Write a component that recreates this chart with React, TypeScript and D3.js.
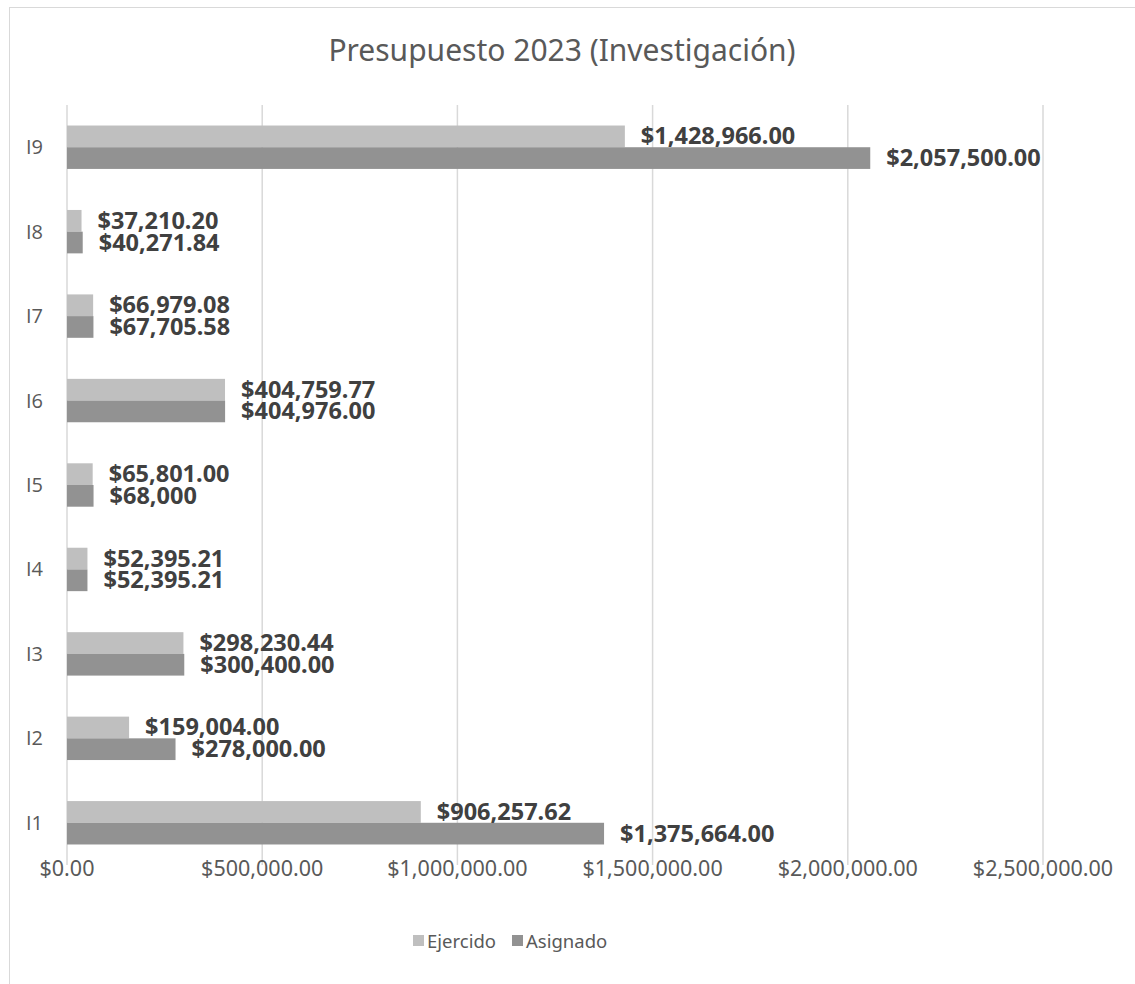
import React from "react";
import * as d3 from "d3";

const categories = ["I1", "I2", "I3", "I4", "I5", "I6", "I7", "I8", "I9"];
const ejercido = [906257.62, 159004, 298230.44, 52395.21, 65801, 404759.77, 66979.08, 37210.2, 1428966];
const asignado = [1375664, 278000, 300400, 52395.21, 68000, 404976, 67705.58, 40271.84, 2057500];
const ejercidoLabels = ["$906,257.62", "$159,004.00", "$298,230.44", "$52,395.21", "$65,801.00", "$404,759.77", "$66,979.08", "$37,210.20", "$1,428,966.00"];
const asignadoLabels = ["$1,375,664.00", "$278,000.00", "$300,400.00", "$52,395.21", "$68,000", "$404,976.00", "$67,705.58", "$40,271.84", "$2,057,500.00"];
const xTicks = [0, 500000, 1000000, 1500000, 2000000, 2500000];
const seriesNames = ["Ejercido", "Asignado"];
const seriesColors = ["#bfbfbf", "#929292"];

const W = 1135;
const H = 984;
const FONT = "'Noto Sans', 'Open Sans', sans-serif";
const CAT_FONT = "'Open Sans', 'Noto Sans', sans-serif";

export default function App() {
  const x = d3.scaleLinear().domain([0, 2500000]).range([67, 1043]);
  const y = d3
    .scaleBand<string>()
    .domain([...categories].reverse())
    .range([105, 865])
    .paddingInner(0.486)
    .paddingOuter(0.243);
  const sub = d3.scaleBand<string>().domain(seriesNames).range([0, y.bandwidth()]);
  const fmt = (v: number) => "$" + d3.format(",.2f")(v);
  const series = [
    { name: seriesNames[0], values: ejercido, labels: ejercidoLabels, color: seriesColors[0] },
    { name: seriesNames[1], values: asignado, labels: asignadoLabels, color: seriesColors[1] },
  ];

  return (
    <svg
      width={W}
      height={H}
      style={{ position: "absolute", left: 0, top: 0, background: "#fff", fontFamily: FONT }}
    >
      <rect x={9.5} y={7.5} width={W + 10} height={H + 10} fill="#fff" stroke="#d9d9d9" />
      <text x={562} y={61} textAnchor="middle" fontSize={30} fill="#595959" fontFamily={FONT}>
        Presupuesto 2023 (Investigación)
      </text>
      {xTicks.map((t) => (
        <line key={"g" + t} x1={x(t)} x2={x(t)} y1={105} y2={865} stroke="#d9d9d9" strokeWidth={1.5} />
      ))}
      {xTicks.map((t) => (
        <text key={"t" + t} x={x(t)} y={876} textAnchor="middle" fontSize={21.5} fill="#595959" fontFamily={FONT}>
          {fmt(t)}
        </text>
      ))}
      {categories.map((c) => (
        <text
          key={"c" + c}
          x={43}
          y={(y(c) ?? 0) + y.bandwidth() / 2 + 7}
          textAnchor="end"
          fontSize={20}
          fill="#595959"
          fontFamily={CAT_FONT}
        >
          {c}
        </text>
      ))}
      {series.map((s) =>
        categories.map((c, i) => {
          const y0 = (y(c) ?? 0) + (sub(s.name) ?? 0);
          return (
            <rect
              key={s.name + c}
              x={x(0)}
              y={y0}
              width={x(s.values[i]) - x(0)}
              height={sub.bandwidth()}
              fill={s.color}
            />
          );
        })
      )}
      {series.map((s) =>
        categories.map((c, i) => {
          const y0 = (y(c) ?? 0) + (sub(s.name) ?? 0);
          return (
            <text
              key={"l" + s.name + c}
              x={x(s.values[i]) + 16}
              y={y0 + sub.bandwidth() / 2 + 8}
              fontSize={23.5}
              fontWeight="bold"
              fill="#404040"
              fontFamily={FONT}
            >
              {s.labels[i]}
            </text>
          );
        })
      )}
      <g>
        <rect x={413} y={935} width={11} height={11} fill={seriesColors[0]} />
        <text x={427} y={948} fontSize={18.5} fill="#595959" fontFamily={FONT}>{seriesNames[0]}</text>
        <rect x={512} y={935} width={11} height={11} fill={seriesColors[1]} />
        <text x={526} y={948} fontSize={18.5} fill="#595959" fontFamily={FONT}>{seriesNames[1]}</text>
      </g>
    </svg>
  );
}
